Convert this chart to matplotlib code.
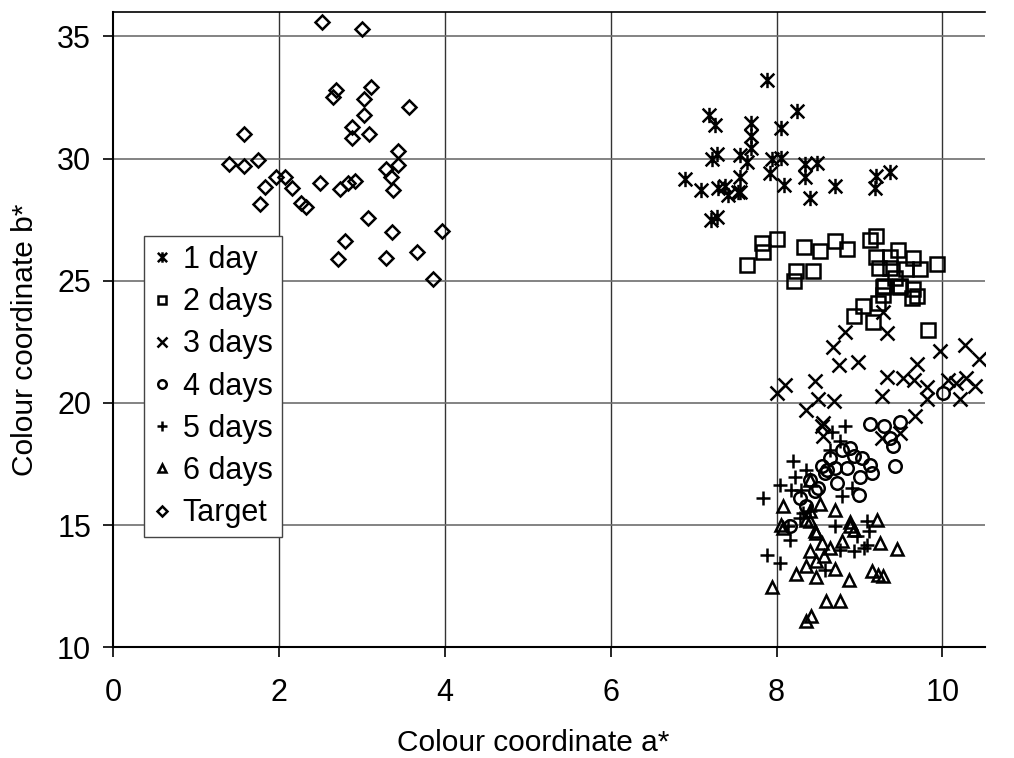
import matplotlib
matplotlib.use("Agg")
import matplotlib.pyplot as plt
from matplotlib.path import Path

plt.rcParams['font.family'] = ['Liberation Sans', 'DejaVu Sans']

# ---------------- data ----------------
day1_x = [7.89, 8.25, 7.19, 7.26, 7.69, 8.06, 7.69, 7.69, 7.22, 7.28, 7.56, 7.64, 7.95, 8.06,
          8.34, 8.49, 7.92, 8.34, 6.90, 7.09, 7.56, 7.30, 7.38, 7.42, 7.54, 8.09, 8.71, 8.40,
          9.20, 9.19, 9.37, 7.21, 7.28, 7.56]
day1_y = [33.22, 31.96, 31.79, 31.38, 31.47, 31.27, 30.93, 30.43, 29.97, 30.19, 30.15, 29.88, 29.97, 30.02,
          29.78, 29.84, 29.43, 29.26, 29.16, 28.72, 29.24, 28.79, 28.88, 28.52, 28.65, 28.92, 28.90, 28.38,
          29.29, 28.79, 29.47, 27.49, 27.63, 28.65]

day2_x = [7.83, 8.01, 7.84, 7.65, 8.33, 8.52, 8.71, 8.85, 8.24, 8.44, 8.21, 9.13, 9.20, 9.46,
          9.20, 9.37, 9.65, 9.94, 9.24, 9.37, 9.56, 9.73, 9.43, 9.29, 9.49, 9.65, 9.29, 9.69,
          9.30, 9.49, 9.64, 9.04, 8.93, 9.17, 9.23, 9.83]
day2_y = [26.56, 26.70, 26.17, 25.65, 26.40, 26.22, 26.61, 26.31, 25.41, 25.41, 25.00, 26.65, 26.84, 26.27,
          25.99, 25.99, 25.93, 25.69, 25.52, 25.52, 25.48, 25.49, 25.11, 24.74, 24.76, 24.66, 24.43, 24.38,
          24.79, 24.79, 24.29, 23.98, 23.54, 23.33, 24.09, 23.00]

day3_x = [9.29, 9.33, 8.83, 8.68, 8.75, 8.98, 9.97, 10.27, 10.44, 9.69, 9.33, 9.53, 9.66, 9.81,
          10.07, 10.17, 10.29, 10.39, 10.21, 9.81, 9.27, 8.10, 8.00, 8.46, 8.50, 8.69, 8.36, 8.56,
          9.67, 9.49, 9.27, 8.55, 8.56]
day3_y = [23.74, 22.88, 22.90, 22.31, 21.56, 21.67, 22.11, 22.38, 21.81, 21.60, 21.08, 21.04, 20.95, 20.67,
          20.95, 20.81, 21.02, 20.70, 20.16, 20.16, 20.29, 20.74, 20.40, 20.91, 20.16, 20.10, 19.72, 19.18,
          19.45, 18.77, 18.56, 19.04, 18.63]

day4_x = [9.13, 9.30, 9.49, 9.37, 9.40, 9.43, 8.89, 8.79, 8.93, 9.03, 9.13, 9.15, 9.01, 8.85,
          8.65, 8.55, 8.61, 8.71, 8.73, 8.50, 8.28, 8.36, 8.16, 8.99, 10.01, 8.40, 8.46, 8.58]
day4_y = [19.15, 19.04, 19.24, 18.56, 18.25, 17.43, 18.15, 18.06, 17.84, 17.75, 17.47, 17.13, 16.99, 17.34,
          17.75, 17.40, 17.27, 17.34, 16.72, 16.52, 16.11, 15.77, 14.95, 16.25, 20.40, 16.86, 16.38, 17.13]

day5_x = [8.83, 8.67, 8.77, 8.65, 8.20, 8.36, 8.22, 8.04, 8.18, 7.84, 8.79, 8.91, 8.28, 8.14,
          8.16, 8.71, 9.09, 9.11, 8.97, 9.09, 8.93, 8.77, 7.88, 8.04, 8.58, 8.32, 8.40, 9.05, 8.30]
day5_y = [19.04, 18.83, 18.43, 18.09, 17.61, 17.27, 16.99, 16.65, 16.45, 16.11, 16.18, 16.52, 15.29, 14.95,
          14.40, 14.95, 15.15, 14.75, 14.54, 14.20, 13.93, 14.00, 13.79, 13.45, 13.18, 15.49, 15.56, 14.07, 16.45]

day6_x = [8.08, 8.52, 8.71, 8.40, 8.06, 8.08, 8.40, 8.48, 8.89, 8.93, 9.21, 8.79, 8.55, 8.65,
          8.40, 8.57, 8.48, 9.25, 9.45, 8.36, 8.24, 8.48, 8.70, 8.88, 9.15, 9.23, 9.29, 7.95,
          8.60, 8.77, 8.36, 8.42, 8.40, 8.36, 8.46, 8.89]
day6_y = [15.77, 15.88, 15.63, 15.56, 15.02, 14.88, 15.15, 14.68, 15.11, 14.81, 15.19, 14.34, 14.27, 14.07,
          13.93, 13.72, 13.52, 14.27, 14.02, 13.31, 13.01, 12.88, 13.21, 12.77, 13.11, 12.97, 12.93, 12.47,
          11.88, 11.88, 11.06, 11.27, 16.86, 15.22, 14.75, 14.95]

target_x = [2.52, 3.00, 2.69, 2.65, 3.11, 3.02, 3.57, 3.03, 1.58, 2.88, 2.88, 3.08, 3.44, 1.39,
            1.58, 1.74, 3.43, 3.29, 1.96, 2.07, 3.35, 1.83, 2.16, 2.49, 2.73, 2.83, 2.92, 3.37,
            1.77, 2.27, 2.32, 3.07, 3.36, 3.96, 2.80, 2.71, 3.29, 3.66, 3.86]
target_y = [35.59, 35.32, 32.81, 32.51, 32.92, 32.45, 32.13, 31.77, 31.01, 31.31, 30.86, 31.01, 30.33, 29.78,
            29.70, 29.95, 29.75, 29.59, 29.26, 29.26, 29.26, 28.85, 28.79, 29.02, 28.76, 29.02, 29.09, 28.72,
            28.16, 28.18, 28.04, 27.56, 26.99, 27.04, 26.63, 25.90, 25.94, 26.17, 25.09]

labels = ['1 day', '2 days', '3 days', '4 days', '5 days', '6 days', 'Target']
x_ticks = [0, 2, 4, 6, 8, 10]
y_ticks = [10, 15, 20, 25, 30, 35]

# asterisk marker: vertical line + X
ast = Path([(0, -0.95), (0, 0.95), (-0.85, -0.85), (0.85, 0.85), (-0.85, 0.85), (0.85, -0.85)],
           [Path.MOVETO, Path.LINETO, Path.MOVETO, Path.LINETO, Path.MOVETO, Path.LINETO])

series = [
    (day1_x, day1_y, ast, 11.0),
    (day2_x, day2_y, 's', 9.5),
    (day3_x, day3_y, 'x', 10.0),
    (day4_x, day4_y, 'o', 9.0),
    (day5_x, day5_y, '+', 10.5),
    (day6_x, day6_y, '^', 9.0),
    (target_x, target_y, 'D', 6.8),
]

fig = plt.figure(figsize=(10.14, 7.58), dpi=100)
ax = fig.add_axes([113.3 / 1014, 1 - 647.3 / 758, (985 - 113.3) / 1014, (647.3 - 12.3) / 758])

ax.set_xlim(0, 10.515)
ax.set_ylim(10, 35.99)

for xv in x_ticks[1:]:
    ax.axvline(xv, color='#333333', lw=1.0, zorder=0)
for yv in y_ticks[1:]:
    ax.axhline(yv, color='#6e6e6e', lw=1.2, zorder=0)

handles = []
for (xs, ys, m, ms), lab in zip(series, labels):
    h, = ax.plot(xs, ys, linestyle='none', marker=m, markersize=ms, markerfacecolor='none',
                 markeredgecolor='black', markeredgewidth=1.8, label=lab, zorder=3)
    handles.append(h)

ax.set_xticks(x_ticks)
ax.set_yticks(y_ticks)
ax.tick_params(axis='both', direction='out', length=7, width=1.2, color='black',
               labelsize=22)
ax.tick_params(axis='y', pad=9)
ax.tick_params(axis='x', pad=15)
ax.spines['right'].set_visible(False)
ax.spines['top'].set_linewidth(1.2)
ax.spines['left'].set_linewidth(1.5)
ax.spines['bottom'].set_linewidth(1.5)

ax.set_xlabel('Colour coordinate a*', fontsize=21.5)
ax.set_ylabel('Colour coordinate b*', fontsize=21.5)
ax.xaxis.set_label_coords(0.4815, -0.128)
ax.yaxis.set_label_coords(-0.085, 0.484)

leg = ax.legend(handles=handles, loc='upper left', bbox_to_anchor=(0.0356, 0.648),
                fontsize=22, markerscale=0.68, frameon=True, fancybox=False,
                edgecolor='#444444', framealpha=1.0, borderaxespad=0,
                handlelength=0.55, handletextpad=0.41, labelspacing=0.40,
                borderpad=0.3)
leg.get_frame().set_linewidth(1.0)
leg.set_zorder(5)

fig.savefig('out.png', dpi=100)
